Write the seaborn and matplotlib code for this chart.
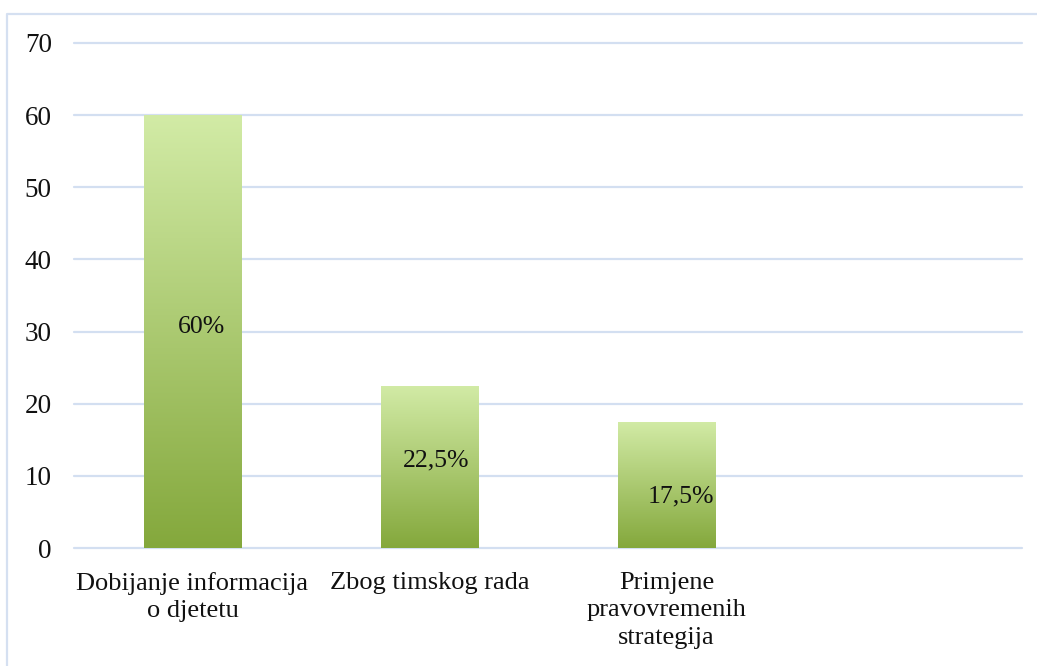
import numpy as np
import matplotlib
matplotlib.use("Agg")
import matplotlib.pyplot as plt
from matplotlib.colors import LinearSegmentedColormap
from matplotlib.lines import Line2D
import matplotlib.patheffects as pe
import seaborn as sns
import pandas as pd

# Survey answers and their shares (percent)
categories = ["Dobijanje informacija\no djetetu", "Zbog timskog rada",
              "Primjene\npravovremenih\nstrategija"]
values = [60, 22.5, 17.5]
value_labels = ["60%", "22,5%", "17,5%"]
y_ticks = [0, 10, 20, 30, 40, 50, 60, 70]

sns.set_theme(style="white")
plt.rcParams["font.family"] = ["Liberation Serif", "DejaVu Serif"]

fig = plt.figure(figsize=(10.37, 6.66), dpi=100)
ax = fig.add_axes([74 / 1037, 1 - 548 / 666, (1022 - 74) / 1037, (548 - 43) / 666])

df = pd.DataFrame({"cat": categories, "val": values})
sns.barplot(data=df, x="cat", y="val", ax=ax, width=0.41, color="#A5C565",
            zorder=3)

ax.set_xlim(-0.5, 3.5)
ax.set_ylim(0, 70)
ax.set_yticks(y_ticks)
ax.set_yticklabels([str(t) for t in y_ticks], fontsize=19.5, color="#111111")
ax.set_xticks(range(len(categories)))
ax.set_xticklabels(categories, fontsize=19, color="#111111",
                   multialignment="center", linespacing=1.3)
ax.set_xlabel("")
ax.set_ylabel("")
ax.tick_params(axis="both", length=0)
ax.tick_params(axis="y", pad=16)
ax.tick_params(axis="x", pad=17.5)

for s in ax.spines.values():
    s.set_visible(False)
ax.grid(False)
for t in y_ticks:
    ax.axhline(t, color="#D3DFF1", lw=1.6, zorder=1, clip_on=False)

# Vertical light-to-dark green fill on every bar
cmap = LinearSegmentedColormap.from_list("grn", ["#84A83C", "#D2EBA6"])
grad = np.linspace(0, 1, 256).reshape(-1, 1)
for p in ax.patches:
    x0, y0 = p.get_x(), p.get_y()
    w, h = p.get_width(), p.get_height()
    p.set_facecolor("none")
    p.set_edgecolor("none")
    shadow = plt.Rectangle((x0, y0), w, h, facecolor="white", edgecolor="none",
                           zorder=2,
                           path_effects=[pe.SimplePatchShadow(offset=(0, -1),
                                                              shadow_rgbFace="#888888",
                                                              alpha=0.25)])
    ax.add_patch(shadow)
    im = ax.imshow(grad, extent=[x0, x0 + w, y0, y0 + h], origin="lower",
                   cmap=cmap, aspect="auto", zorder=3, interpolation="bicubic")
    im.set_clip_path(p)

# Value labels placed inside the bars
label_x_shift = [0.04, 0.03, 0.06]
label_y_frac = [0.51, 0.54, 0.41]
for i, (v, lab) in enumerate(zip(values, value_labels)):
    ax.text(i + label_x_shift[i], v * label_y_frac[i], lab, ha="center",
            va="center", fontsize=18.5, color="#111111", zorder=5)

ax.set_xlim(-0.5, 3.5)
ax.set_ylim(0, 70)

# Chart area outline (left and top edges)
fig.add_artist(Line2D([7 / 1037, 7 / 1037, 1.0], [0.0, 1 - 14 / 666, 1 - 14 / 666],
                      transform=fig.transFigure, color="#D5E0F1", lw=1.6))

fig.savefig("out.png", dpi=100, facecolor="white")
